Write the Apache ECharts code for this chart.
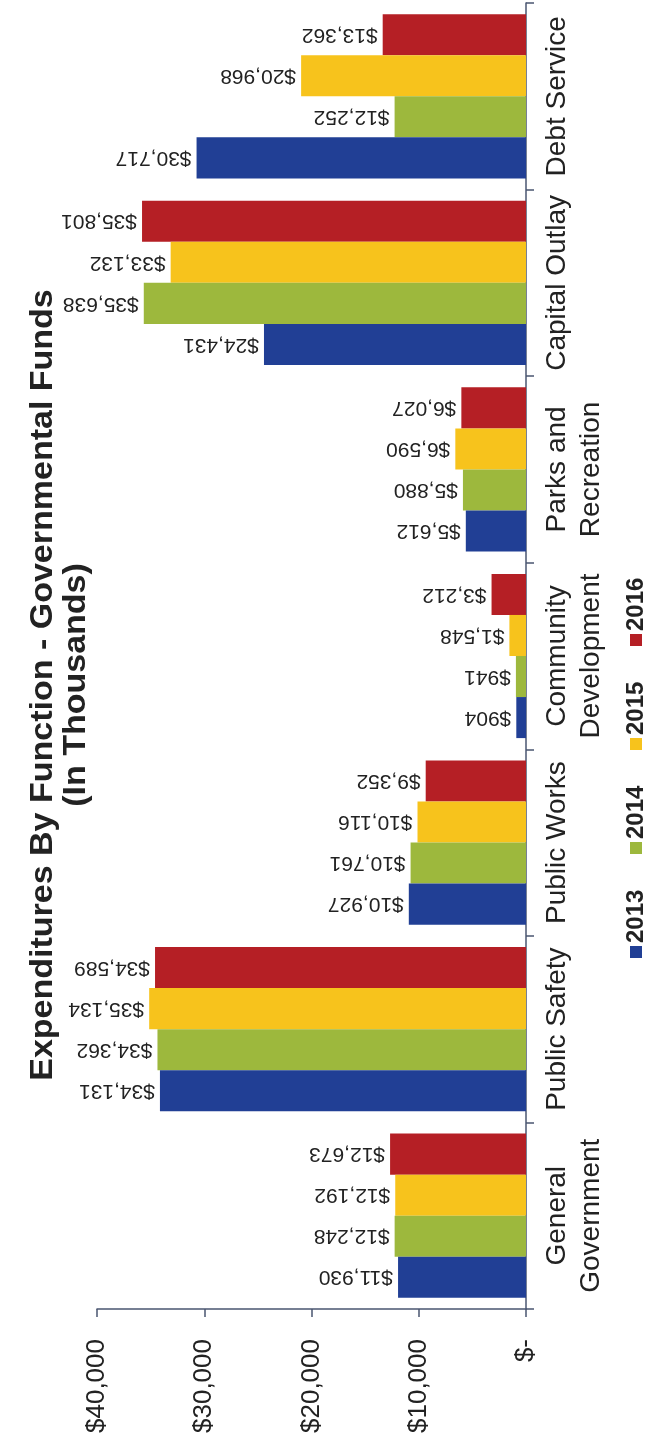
<!DOCTYPE html>
<html>
<head>
<meta charset="utf-8">
<script src="https://cdn.jsdelivr.net/npm/echarts@6/dist/echarts.min.js"></script>
<style>
html,body{margin:0;padding:0;background:#fff;}
#chart{width:650px;height:1454px;}
</style>
</head>
<body>
<div id="chart"></div>
<script>
const categories = ['General\nGovernment','Public Safety','Public Works','Community\nDevelopment','Parks and\nRecreation','Capital Outlay','Debt Service'];
const seriesNames = ['2013','2014','2015','2016'];
const values2013 = [11930, 34131, 10927, 904, 5612, 24431, 30717];
const values2014 = [12248, 34362, 10761, 941, 5880, 35638, 12252];
const values2015 = [12192, 35134, 10116, 1548, 6590, 33132, 20968];
const values2016 = [12673, 34589, 9352, 3212, 6027, 35801, 13362];
const valueTicks = [0, 10000, 20000, 30000, 40000];
const titleText = 'Expenditures By Function - Governmental Funds';
const subtitleText = '(In Thousands)';

const colors = ['#213f95', '#9db83d', '#f7c31c', '#b51f25'];
const allValues = [values2013, values2014, values2015, values2016];
const FONT = "'Liberation Sans', Arial, sans-serif";

function money(v){ return v === 0 ? '$-' : '$' + v.toLocaleString('en-US'); }

const chart = echarts.init(document.getElementById('chart'), null, {renderer:'canvas'});

// horizontal bars: first series is drawn on top of each band, so add 2016 first
const order = [3, 2, 1, 0];
const series = order.map(i => ({
  name: seriesNames[i],
  type: 'bar',
  data: allValues[i],
  barGap: '0%',
  barCategoryGap: '12%',
  itemStyle: { color: colors[i] },
  label: {
    show: true,
    position: 'left',
    distance: 5,
    rotate: 180,
    align: 'left',
    verticalAlign: 'middle',
    fontFamily: FONT,
    fontSize: 21,
    color: '#222',
    formatter: p => money(p.value)
  }
}));

// legend drawn as rotated graphic group built from names/colors
const pitch = 104;
const legendChildren = [];
seriesNames.forEach((n, i) => {
  legendChildren.push({ type:'rect', shape:{ x:i*pitch, y:-6, width:12, height:12 }, style:{ fill: colors[i] } });
  legendChildren.push({ type:'text', x:i*pitch+15, y:0, style:{ text:n, font:'bold 24px ' + FONT, fill:'#222', textAlign:'left', textVerticalAlign:'middle' } });
});

const option = {
  backgroundColor: '#fff',
  animation: false,
  grid: { left: 97, right: 124, top: 3, bottom: 145, containLabel: false },
  xAxis: {
    type: 'value',
    inverse: true,
    min: valueTicks[0],
    max: valueTicks[valueTicks.length-1],
    interval: 10000,
    position: 'bottom',
    splitLine: { show: false },
    axisLine: { show: true, lineStyle: { color: '#4a5670', width: 1.5 } },
    axisTick: { show: true, inside: false, length: 8, lineStyle: { color: '#4a5670', width: 1.5 } },
    axisLabel: { rotate: 90, margin: 30, fontFamily: FONT, fontSize: 26, color: '#222', formatter: v => money(v) }
  },
  yAxis: {
    type: 'category',
    data: categories,
    position: 'right',
    axisLine: { show: true, lineStyle: { color: '#4a5670', width: 1.5 } },
    axisTick: { show: true, inside: false, length: 8, lineStyle: { color: '#4a5670', width: 1.5 } },
    axisLabel: { rotate: 90, margin: 14, fontFamily: FONT, fontSize: 28, lineHeight: 34, color: '#222', interval: 0 }
  },
  series: series,
  graphic: [
    {
      type: 'text',
      x: 60, y: 685,
      rotation: Math.PI / 2,
      scaleY: 0.9,
      style: {
        text: titleText + '\n' + subtitleText,
        font: "bold 34px 'Liberation Sans Narrow', 'Arial Narrow', 'Liberation Sans', Arial, sans-serif",
        lineHeight: 36,
        fill: '#222',
        textAlign: 'center',
        textVerticalAlign: 'middle'
      }
    },
    {
      type: 'group',
      x: 636, y: 958,
      rotation: Math.PI / 2,
      children: legendChildren
    }
  ]
};
chart.setOption(option);
</script>
</body>
</html>
